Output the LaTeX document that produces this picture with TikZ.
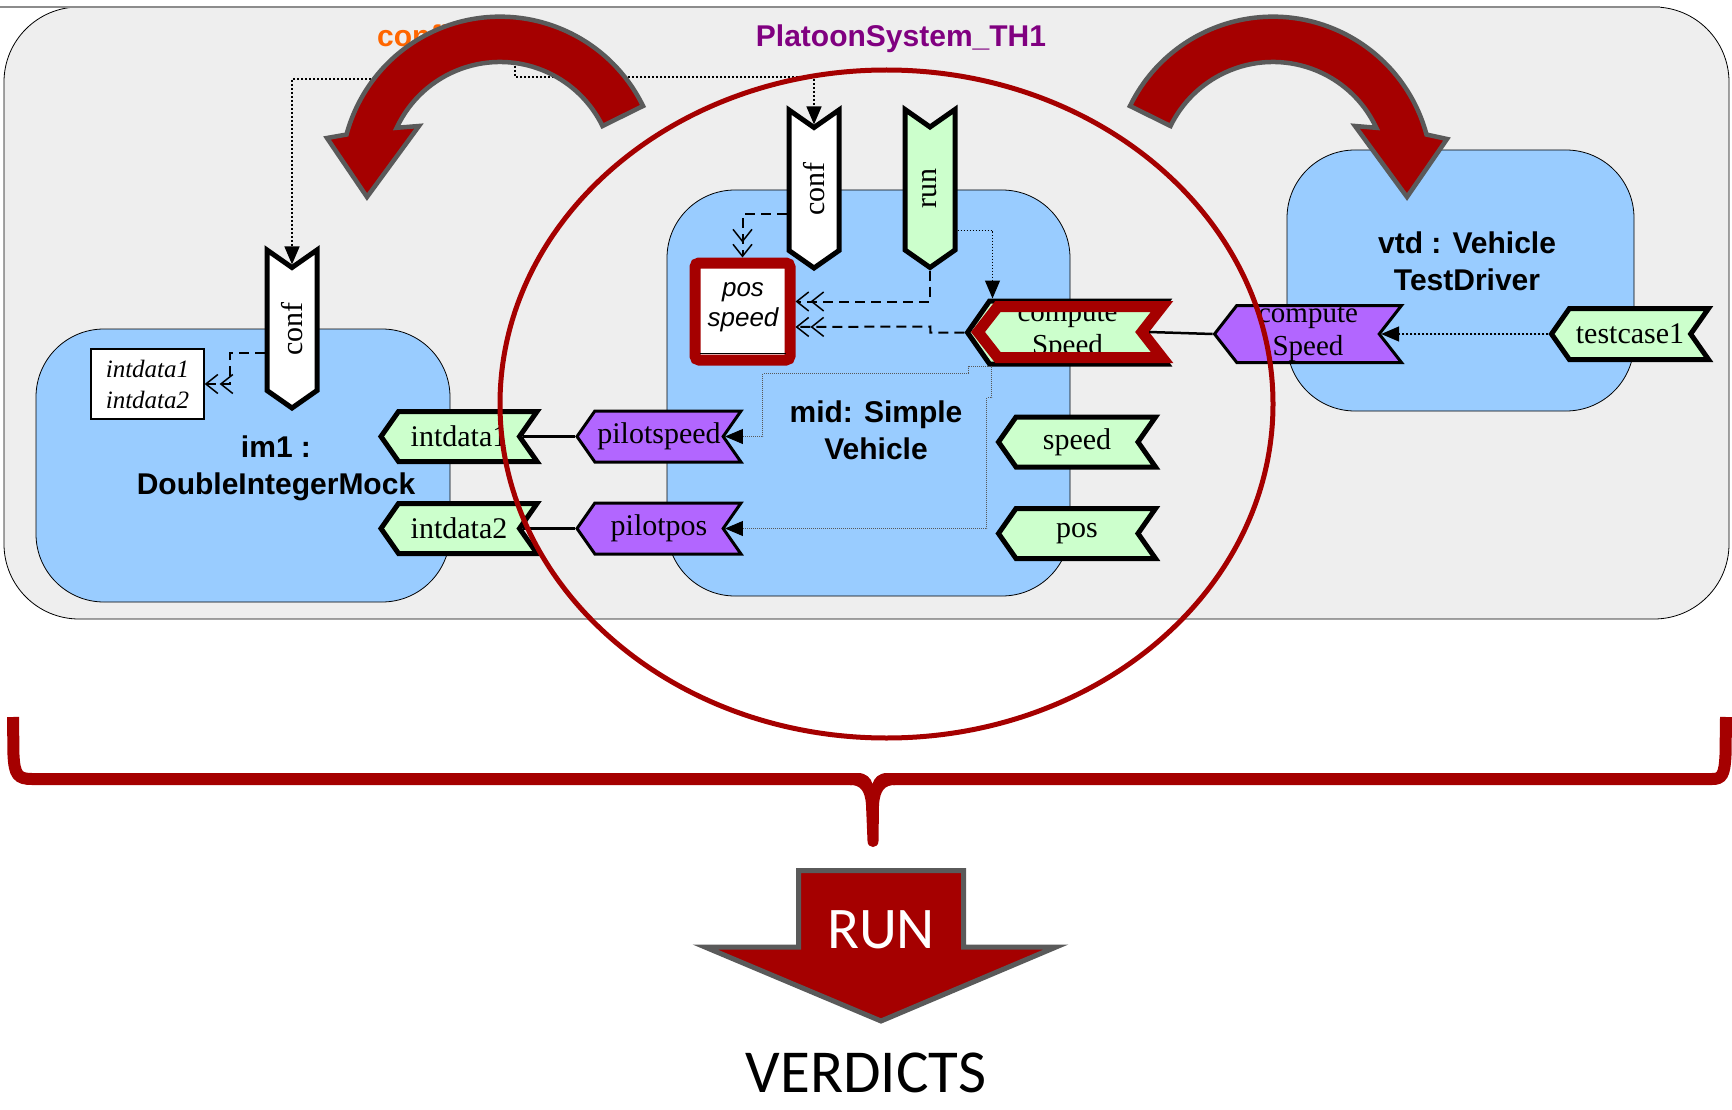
\documentclass[tikz,border=0pt]{standalone}
\usepackage{fontspec}
\setmainfont{Liberation Serif}
\setsansfont{Liberation Sans}
\newfontfamily\slidefont{Carlito}
\usetikzlibrary{shapes.symbols,arrows.meta,calc}

\definecolor{pane}{HTML}{EEEEEE}
\definecolor{partblue}{HTML}{99CCFF}
\definecolor{portgreen}{HTML}{CCFFCC}
\definecolor{portpurple}{HTML}{B266FF}
\definecolor{hired}{HTML}{A50000}
\definecolor{arrowgray}{HTML}{5A5A5A}
\definecolor{cfgorange}{HTML}{FF6600}
\definecolor{sysviolet}{HTML}{800080}

\pgfdeclareradialshading{vignette}{\pgfpoint{0bp}{0bp}}{color(0bp)=(white); color(36bp)=(white); color(50bp)=(black!4); color(72bp)=(black!11)}

\tikzset{
  part/.style={draw=black, line width=0.8pt, fill=partblue, rounded corners=68pt, inner sep=0pt},
  partlabel/.style={font=\sffamily\bfseries\fontsize{30}{37}\selectfont, align=center, inner sep=0pt},
  port/.style={signal, signal to=west, signal from=east, signal pointer angle=110,
    draw=black, line width=5pt, fill=portgreen, inner sep=0pt,
    font=\fontsize{30}{33}\selectfont, align=center},
  pport/.style={port, fill=portpurple, line width=3pt},
  vport/.style={port, rotate=90},
  solidconn/.style={line width=2.5pt, black},
  dotconn/.style={line width=1.5pt, dash pattern=on 2pt off 2pt, -{Triangle[length=18pt,width=15pt]}},
  thindot/.style={line width=1.2pt, dash pattern=on 1.5pt off 1.5pt, -{Triangle[length=18pt,width=15pt]}},
  faintdot/.style={line width=1pt, black!65, dash pattern=on 1pt off 1pt, -{Triangle[length=18pt,width=15pt,color=black]}},
  dashconn/.style={line width=2pt, dash pattern=on 10pt off 6pt,
    -{Straight Barb[length=12pt,width=19pt,line width=1.5pt,sep=1pt]Straight Barb[length=12pt,width=19pt,line width=1.5pt]}},
  bigarrow/.style={fill=hired, draw=arrowgray, line width=4.5pt, line join=miter},
}

\begin{document}
\begin{tikzpicture}[x=1pt, y=-1pt]
\useasboundingbox (0,0) rectangle (1732,1110);
\shade[shading=vignette] (0,0) rectangle (1732,1110);

% system frame
\draw[fill=pane, line width=0.8pt, rounded corners=75pt] (4,7) rectangle (1729,619);
\draw[line width=2pt, black!45] (0,7) -- (1660,7);

\node[anchor=base west, inner sep=0pt, text=cfgorange, font=\sffamily\bfseries\fontsize{30}{36}\selectfont] (cfglabel) at (377,47) {configuration};
\node[anchor=base, inner sep=0pt, text=sysviolet, font=\sffamily\bfseries\fontsize{30}{36}\selectfont] (systitle) at (901,47) {PlatoonSystem\_TH1};

% parts
\node[part, minimum width=414pt, minimum height=273pt] (im1) at (243,465.5) {};
\node[part, minimum width=403pt, minimum height=406pt] (mid) at (868.5,393) {};
\node[part, minimum width=347pt, minimum height=261pt] (vtd) at (1460.5,280.5) {};

\node[partlabel] (im1lbl) at (276,468) {im1 :\\DoubleIntegerMock};
\node[partlabel] (midlbl) at (876,430) {mid: Simple\\Vehicle};
\node[partlabel] (vtdlbl) at (1467,261) {vtd : Vehicle\\TestDriver};

% data boxes
\node[draw=black, line width=1.3pt, fill=white, minimum width=113pt, minimum height=70pt, inner sep=0pt,
      align=center, font=\itshape\fontsize{25}{31}\selectfont] (ibox) at (147.5,384) {intdata1\\intdata2};
\node[draw=hired, line width=11pt, fill=white, rounded corners=4pt, minimum width=95pt, minimum height=97pt, inner sep=0pt] (posbox) at (742.5,311.5) {};
\draw[line width=1.2pt] ($(posbox.south west)+(10,-12)$) -- ($(posbox.south east)+(-10,-12)$);
\node[align=center, inner sep=0pt, font=\sffamily\itshape\fontsize{26}{30}\selectfont] (postxt) at (743,307) {pos\\speed};

% ports
\node[port, minimum width=156pt, minimum height=50pt] (idata1) at (459,436.5) {intdata1};
\node[port, minimum width=156pt, minimum height=50pt] (idata2) at (459,528.5) {intdata2};
\node[pport, minimum width=164pt, minimum height=51pt] (pspeed) at (659,436.5) {pilotspeed};
\node[pport, minimum width=164pt, minimum height=51pt] (ppos) at (659,528.5) {pilotpos};
\node[vport, fill=white, minimum width=158pt, minimum height=50pt] (conf1) at (292,329) {conf};
\node[vport, fill=white, minimum width=158pt, minimum height=50pt] (mconf) at (814,189) {conf};
\node[vport, minimum width=158pt, minimum height=50pt] (mrun) at (930,188.5) {run};
\node[port, minimum width=200pt, minimum height=63pt, font=\fontsize{29}{33}\selectfont] (mcomp) at (1067.5,332.5) {compute\\Speed};
\node[port, minimum width=157pt, minimum height=50pt] (mspeed) at (1077,442) {speed};
\node[port, minimum width=157pt, minimum height=50pt] (mpos) at (1077,533.5) {pos};
\node[pport, signal pointer angle=104, minimum width=187pt, minimum height=57pt, font=\fontsize{29}{33}\selectfont] (vcomp) at (1308,334) {compute\\Speed};
\node[port, minimum width=157pt, minimum height=51pt] (tcase) at (1630,334) {testcase1};

% highlight on the mid compute port
\node[signal, signal to=west, signal from=east, signal pointer angle=104, draw=hired, line width=11pt,
      minimum width=184pt, minimum height=51pt, inner sep=0pt] (mcomphl) at (1070,332) {};

% connectors
\draw[solidconn] (idata1.east) -- (pspeed.west);
\draw[solidconn] (idata2.east) -- (ppos.west);
\draw[solidconn] (vcomp.west) -- (mcomphl.east);
\draw[dotconn] (tcase.west) -- (vcomp.east);

\draw[dashconn] ($(conf1.north)+(0,24)$) -- ++(-35,0) |- (ibox.east);
\draw[dashconn] ($(mconf.north)+(0,25)$) -| (posbox.north);
\draw[dashconn] (mrun.west) |- ($(posbox.east)+(0,-10)$);
\draw[dashconn] (mcomp.west) -- ++(-34,0) -- ++(0,-6) -- ($(posbox.east)+(0,15.5)$);

\draw[thindot] ($(mrun.south)+(0,42)$) -| ($(mcomp.north)+(-75,0)$);
\coordinate (mcsrc) at ($(mcomp.south)+(-76,0)$);
\draw[faintdot] (mcsrc) -- ++(-23,0) -- ++(0,7) -- ++(-206,0) |- (pspeed.east);
\draw[faintdot] (mcsrc) -- ++(0,31) -- ++(-5,0) |- (ppos.east);

\coordinate (cfgA) at (515,58);
\coordinate (cfgB) at (415,79);
\draw[dotconn] (cfgA) -- ++(0,19) -| (mconf.east);
\draw[dotconn] (cfgB) -| (conf1.east);

% curved arrows
\filldraw[bigarrow] (643,106) arc[start angle=26, end angle=165, radius=159pt]
  -- (327,138) -- (367,197) -- (419,126)
  -- (396.7,127.8) arc[start angle=155, end angle=26, radius=114pt] -- cycle;
\filldraw[bigarrow] (1130,106) arc[start angle=154, end angle=15, radius=159pt]
  -- (1447,139) -- (1407,197) -- (1355,126)
  -- (1376.3,127.8) arc[start angle=25, end angle=154, radius=114pt] -- cycle;

% highlight ellipse
\draw[hired, line width=5pt] (886.5,404) ellipse [x radius=386.5pt, y radius=334pt];

% brace
\draw[hired, line width=12pt] (13,717) -- (13.5,755) .. controls (14.5,775) and (18,779) .. (32,779) -- (852,779);
\draw[hired, line width=12pt] (893,779) -- (1712,779) .. controls (1722,779) and (1724.5,775) .. (1725.5,755) -- (1726,717);
\fill[hired] (850,773) -- (858,773) .. controls (866,773) and (871,778) .. (872.5,784)
  .. controls (874,778) and (879,773) .. (887,773) -- (895,773) -- (895,785)
  .. controls (885,785) and (880,790) .. (879,805) -- (878.5,841)
  .. controls (878.5,849) and (867.5,849) .. (867.5,841) -- (866,805)
  .. controls (865,790) and (860,785) .. (850,785) -- cycle;

% run arrow
\filldraw[bigarrow, line width=5pt] (798.5,870.5) -- (963.5,870.5) -- (963.5,947) -- (1056,947)
  -- (881,1021) -- (705,947) -- (798.5,947) -- cycle;
\node[anchor=base, inner sep=0pt, text=white, font=\slidefont\fontsize{59}{60}\selectfont] (runlbl) at (881,948) {RUN};
\node[anchor=base, inner sep=0pt, font=\slidefont\fontsize{61}{63}\selectfont] (verdicts) at (866,1092) {VERDICTS};
\end{tikzpicture}
\end{document}
